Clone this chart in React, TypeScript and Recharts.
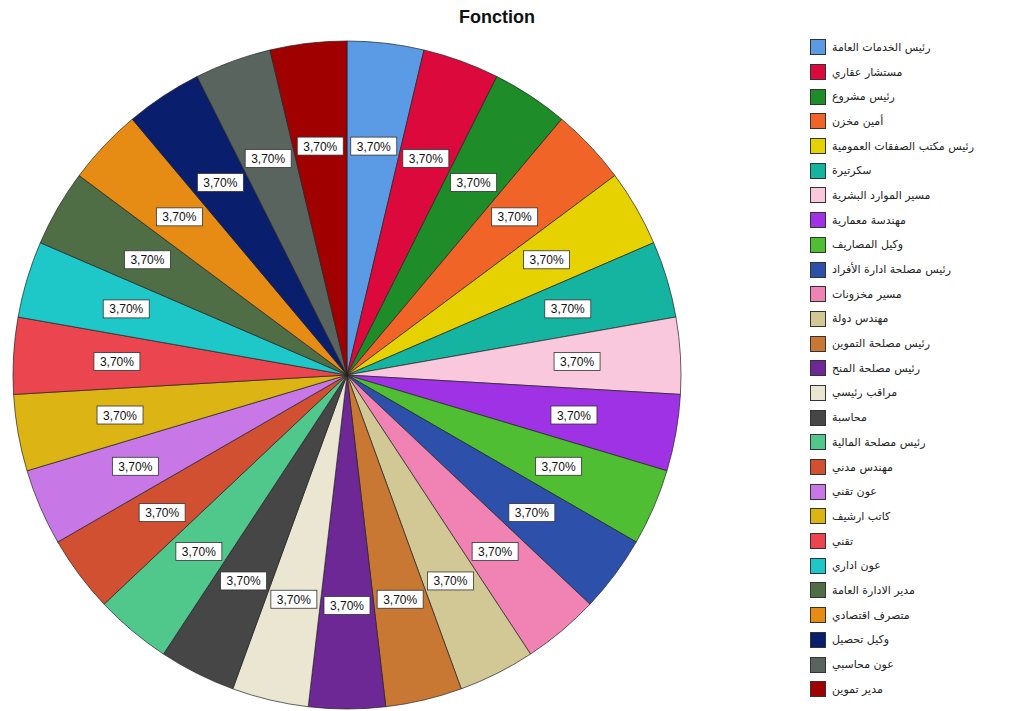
import { PieChart, Pie, Cell, Legend } from 'recharts';

const functions = [
  'رئيس الخدمات العامة',
  'مستشار عقاري',
  'رئيس مشروع',
  'أمين مخزن',
  'رئيس مكتب الصفقات العمومية',
  'سكرتيرة',
  'مسير الموارد البشرية',
  'مهندسة معمارية',
  'وكيل المصاريف',
  'رئيس مصلحة ادارة الأفراد',
  'مسير مخزونات',
  'مهندس دولة',
  'رئيس مصلحة التموين',
  'رئيس مصلحة المنح',
  'مراقب رئيسي',
  'محاسبة',
  'رئيس مصلحة المالية',
  'مهندس مدني',
  'عون تقني',
  'كاتب ارشيف',
  'تقني',
  'عون اداري',
  'مدير الادارة العامة',
  'متصرف اقتصادي',
  'وكيل تحصيل',
  'عون محاسبي',
  'مدير تموين',
];

const counts = [1, 1, 1, 1, 1, 1, 1, 1, 1, 1, 1, 1, 1, 1, 1, 1, 1, 1, 1, 1, 1, 1, 1, 1, 1, 1, 1];

const colors = [
  '#5b9be6', '#dc0a3c', '#1e8c28', '#f06428', '#e6d200', '#14b4a0', '#fac8dc',
  '#a032e6', '#50be32', '#2d50aa', '#f082b4', '#d2c896', '#c87832', '#6e2896',
  '#ebe6d2', '#464646', '#50c88c', '#d25032', '#c878e6', '#dcb414', '#eb4650',
  '#1ec8c8', '#506e46', '#e68c14', '#0a1e6e', '#5a645f', '#a00000',
];

const data = functions.map((name, i) => ({ name, value: counts[i] }));

const RAD = Math.PI / 180;

function PctLabel(props: any) {
  const { cx, cy, midAngle, outerRadius, percent } = props;
  const r = outerRadius * 0.69;
  const x = cx + r * Math.cos(-midAngle * RAD);
  const y = cy + r * Math.sin(-midAngle * RAD);
  const txt = (percent * 100).toFixed(2).replace('.', ',') + '%';
  return (
    <g>
      <rect x={x - 23} y={y - 9} width={46} height={18} fill="#fff" stroke="#333" strokeWidth={0.8} />
      <text x={x} y={y + 4.5} textAnchor="middle" fontSize={12} fill="#111" fontFamily="Liberation Sans, Arial">
        {txt}
      </text>
    </g>
  );
}

function LegendList() {
  return (
    <div style={{ fontFamily: 'DejaVu Sans, Noto Sans, sans-serif' }}>
      {data.map((d, i) => (
        <div key={d.name} style={{ display: 'flex', alignItems: 'center', height: 24.7 }}>
          <span
            style={{
              width: 16, height: 16, background: colors[i], border: '1px solid #333',
              boxSizing: 'border-box', marginRight: 6, flex: 'none',
            }}
          />
          <span style={{ fontSize: 11, color: '#222', whiteSpace: 'nowrap' }}>{d.name}</span>
        </div>
      ))}
    </div>
  );
}

export default function App() {
  return (
    <div style={{ position: 'absolute', left: 0, top: 0, width: 1012, height: 711, background: '#fff' }}>
      <PieChart width={1012} height={711} style={{ position: 'absolute', left: 0, top: 0 }}>
        <Pie
          data={data}
          dataKey="value"
          nameKey="name"
          cx={342}
          cy={370}
          outerRadius={334}
          startAngle={90}
          endAngle={-270}
          stroke="#222"
          strokeWidth={0.7}
          label={PctLabel}
          labelLine={false}
          isAnimationActive={false}
        >
          {data.map((d, i) => (
            <Cell key={d.name} fill={colors[i]} />
          ))}
        </Pie>
        <Legend
          layout="vertical"
          verticalAlign="top"
          align="right"
          content={() => <LegendList />}
          wrapperStyle={{ left: 810, top: 35, width: 200 }}
        />
      </PieChart>
      <div
        style={{
          position: 'absolute', left: 0, top: 7, width: 994, textAlign: 'center',
          fontFamily: 'Liberation Sans, Arial', fontWeight: 'bold', fontSize: 18, color: '#111',
        }}
      >
        Fonction
      </div>
    </div>
  );
}
